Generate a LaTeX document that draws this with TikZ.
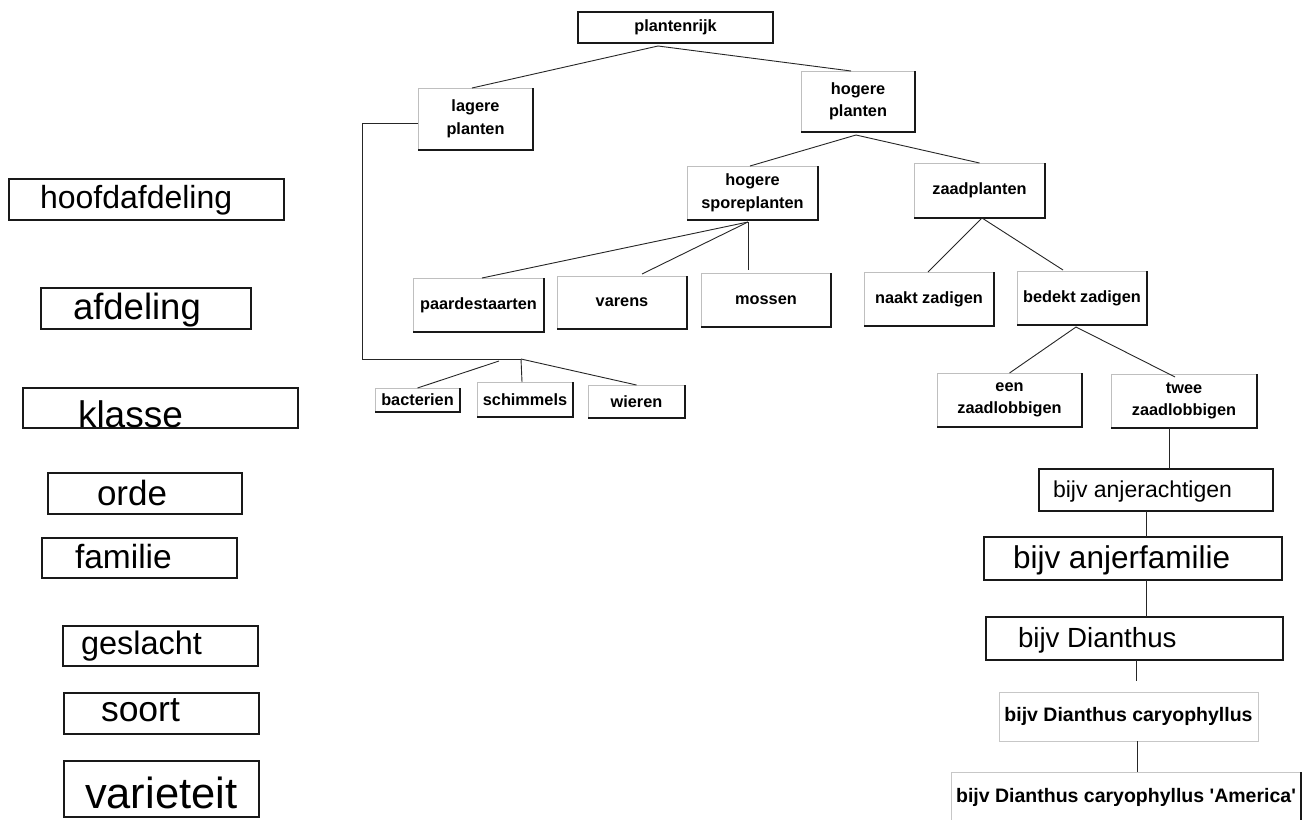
\documentclass[tikz,border=0pt]{standalone}
\usepackage{fontspec}
\setmainfont{Liberation Sans}[Ligatures=TeXOff]
\usetikzlibrary{calc}

% box from its corner coordinates: style, name, x1, x2, y1, y2, text
\newcommand{\plbox}[7]{%
  \node[#1, minimum width={(#4)-(#3)}, minimum height={(#6)-(#5)}]
    (#2) at ({((#3)+(#4))/2},{((#5)+(#6))/2}) {#7};}

\tikzset{
  box/.style={rectangle, inner sep=0pt, outer sep=0pt, fill=white},
  tree/.style={box, draw=black!25, line width=0.9pt,
    font=\fontsize{16.3}{22.5}\selectfont\bfseries, align=center},
  rank/.style={box, draw=black!90, line width=1.4pt},
  chain/.style={box, draw=black!90, line width=1.5pt},
  light/.style={box, draw=black!22, line width=0.9pt,
    font=\fontsize{19.5}{22}\selectfont\bfseries},
  lbl/.style={anchor=base west, inner sep=0pt, outer sep=0pt},
  link/.style={draw=black!85, line width=0.9pt},
  edge3d/.style={draw=black!90, line width=1.8pt}
}

\begin{document}
\begin{tikzpicture}[x=1pt,y=-1pt]
\fill[white] (0,0) rectangle (1316,819);
\useasboundingbox (0,0) rectangle (1316,819);

% ---------- plant kingdom tree ----------
\plbox{tree,draw=black!90,line width=1.3pt}{plantenrijk}{578}{773}{12}{43}{plantenrijk}
\plbox{tree}{lagere}{418}{533}{88}{150}{lagere\\planten}
\plbox{tree}{hogere}{801}{915}{71}{132}{hogere\\planten}
\plbox{tree}{spore}{687}{818}{166}{220}{hogere\\sporeplanten}
\plbox{tree}{zaad}{914}{1045}{163}{218}{zaadplanten}
\plbox{tree}{paard}{413}{544}{278}{332}{paardestaarten}
\plbox{tree}{varens}{557}{687}{276}{329}{varens}
\plbox{tree}{mossen}{701}{831}{273}{327}{mossen}
\plbox{tree}{naakt}{864}{994}{272}{326}{naakt zadigen}
\plbox{tree}{bedekt}{1017}{1147}{271}{325}{bedekt zadigen}
\plbox{tree}{een}{937}{1082}{373}{427}{een\\zaadlobbigen}
\plbox{tree}{twee}{1111}{1257}{374}{428}{twee\\zaadlobbigen}
\plbox{tree}{bacterien}{375}{460}{388}{412}{bacterien}
\plbox{tree}{schimmels}{477}{573}{382}{417}{schimmels}
\plbox{tree}{wieren}{588}{685}{385}{418}{wieren}

% darker lower and right edges give the boxes their raised look
\foreach \n in {plantenrijk,lagere,hogere,spore,zaad,paard,varens,mossen,
                naakt,bedekt,een,twee,bacterien,schimmels,wieren}
  \draw[edge3d] (\n.north east) -- (\n.south east) -- (\n.south west);

% ---------- example chain ----------
\plbox{chain}{anjer}{1039}{1273}{469}{511}{}
\node[lbl, font=\fontsize{23}{23}\selectfont] (anjer-t) at (1053,497) {bijv anjerachtigen};
\plbox{chain}{anjerfam}{984}{1282}{537}{580}{}
\node[lbl, font=\fontsize{31.5}{31.5}\selectfont] (anjerfam-t) at (1013,568) {bijv anjerfamilie};
\plbox{chain}{dianthus}{986}{1283}{617}{660}{}
\node[lbl, font=\fontsize{27.7}{27.7}\selectfont] (dianthus-t) at (1018,647) {bijv Dianthus};
\plbox{light}{caryo}{999}{1258}{692}{741}{bijv Dianthus caryophyllus}
\plbox{light}{america}{951}{1301}{772}{822}{bijv Dianthus caryophyllus 'America'}
\draw[edge3d, line width=1.4pt] (america.north east) -- (america.south east);

% ---------- rank labels ----------
\plbox{rank}{hoofd}{9}{284}{179}{220}{}
\node[lbl, font=\fontsize{32}{32}\selectfont] (hoofd-t) at (40,208) {hoofdafdeling};
\plbox{rank}{afd}{41}{251}{288}{329}{}
\node[lbl, font=\fontsize{36.5}{36.5}\selectfont] (afd-t) at (73,319) {afdeling};
\plbox{rank}{klasse}{23}{298}{388}{428}{}
\node[lbl, font=\fontsize{37}{37}\selectfont] (klasse-t) at (78,427) {klasse};
\plbox{rank}{orde}{48}{242}{473}{514}{}
\node[lbl, font=\fontsize{35}{35}\selectfont] (orde-t) at (97,505) {orde};
\plbox{rank}{familie}{42}{237}{538}{578}{}
\node[lbl, font=\fontsize{33.5}{33.5}\selectfont] (familie-t) at (75,568) {familie};
\plbox{rank}{geslacht}{63}{258}{626}{666}{}
\node[lbl, font=\fontsize{32.5}{32.5}\selectfont] (geslacht-t) at (81,654) {geslacht};
\plbox{rank}{soort}{64}{259}{693}{734}{}
\node[lbl, font=\fontsize{35.5}{35.5}\selectfont] (soort-t) at (101,721) {soort};
\plbox{rank}{varieteit}{64}{259}{761}{817}{}
\node[lbl, font=\fontsize{43.5}{43.5}\selectfont] (varieteit-t) at (85,808) {varieteit};

% ---------- connectors ----------
\draw[link] ($(plantenrijk.south)+(-17.5,3)$) coordinate (pr)
  -- ($(lagere.north)+(-3.5,0)$);
\draw[link] (pr) -- ($(hogere.north)+(-7,0)$);

\draw[link] ($(lagere.west)+(0,4)$) -- ++(-56,0) |- (521,359) coordinate (lj);
\draw[link] ($(lj)+(-22,2)$) -- (bacterien.north);
\draw[link] (lj) -- ($(schimmels.north)+(-3,0)$);
\draw[link] (lj) -- (wieren.north);

\draw[link] ($(hogere.south)+(-2,3)$) coordinate (hp)
  -- ($(spore.north)+(-2.5,0)$);
\draw[link] (hp) -- (zaad.north);

\draw[link] ($(spore.south)+(-4.5,2)$) coordinate (sp)
  -- ($(paard.north)+(3.5,0)$);
\draw[link] (sp) -- ($(varens.north)+(20,-2)$);
\draw[link] (sp) -- ($(mossen.north)+(-18,-3)$);

\draw[link] ($(zaad.south)+(2.5,0)$) coordinate (zp)
  -- ($(naakt.north)+(-1,0)$);
\draw[link] (zp) -- ($(bedekt.north)+(-19,-1)$);

\draw[link] ($(bedekt.south)+(-6,2)$) coordinate (bp)
  -- (een.north);
\draw[link] (bp) -- ($(twee.north)+(-9,3)$);

\draw[link] ($(twee.south)+(-15,0)$) coordinate (c1) -- (c1 |- anjer.north);
\draw[link] ($(anjer.south)+(-10,0)$) coordinate (c2) -- (c2 |- anjerfam.north);
\draw[link] ($(anjerfam.south)+(13,0)$) coordinate (c3) -- (c3 |- dianthus.north);
\draw[link, shorten >=11pt] ($(dianthus.south)+(1.5,0)$) coordinate (c4) -- (c4 |- caryo.north);
\draw[link] ($(caryo.south)+(8.5,0)$) coordinate (c5) -- (c5 |- america.north);
\end{tikzpicture}
\end{document}
